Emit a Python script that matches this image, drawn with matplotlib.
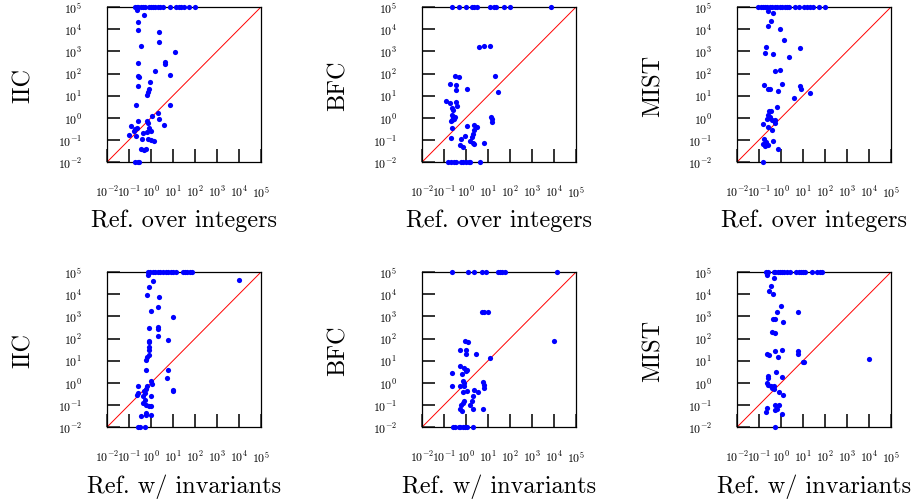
#!/usr/bin/env python3

import numpy as np
import matplotlib
matplotlib.use('Agg')
import matplotlib.pyplot as plt
from matplotlib.ticker import LogLocator, NullLocator

plt.rcParams['font.family'] = 'serif'
plt.rcParams['font.serif'] = ['cmr10', 'DejaVu Serif']
plt.rcParams['mathtext.fontset'] = 'cm'
plt.rcParams['axes.formatter.use_mathtext'] = True

# timeouts are drawn at the top of the plot, tiny runtimes at the bottom
TIMEOUT = 1e5
FLOOR = 1e-2

# all values below are log10 of the runtimes (seconds)

# IIC vs Ref. over integers
iic_int_top = [-0.73, -0.65, -0.58, -0.47, -0.37, -0.28, -0.10, 0.01, 0.10, 0.20,
               0.32, 0.43, 0.53, 0.85, 1.14, 1.26, 1.38, 1.48, 1.71, 1.98]
iic_int_bot = [-0.73, -0.61, -0.55]
iic_int_x = [-0.62, -0.32, -0.59, -0.61, 0.35, 0.35, -0.47, 1.11, -0.58, 0.62, 0.65,
             0.20, -0.58, -0.55, 0.85, -0.05, -0.61, -0.10, -0.14, -0.20, -0.67, 0.88,
             0.31, 0.05, 0.38, -0.59, -0.17, -0.13, 0.61, -0.91, -0.73, -0.62, -0.77,
             -0.10, -0.02, -0.17, -1.00, -0.70, -0.37, -0.40, -0.13, -0.02, 0.16,
             -0.43, -0.32, -0.22]
iic_int_y = [4.85, 4.62, 4.32, 3.98, 3.87, 3.42, 3.24, 2.97, 2.47, 2.52, 2.44,
             2.13, 1.89, 1.83, 1.95, 1.62, 1.44, 1.29, 1.17, 1.05, 0.59, 0.56,
             0.22, 0.08, -0.07, -0.14, -0.13, -0.22, -0.34, -0.37, -0.49, -0.46, -0.61,
             -0.46, -0.61, -0.64, -0.79, -0.83, -0.67, -0.97, -0.97, -1.02, -1.06,
             -1.39, -1.47, -1.39]

# BFC vs Ref. over integers
bfc_int_top = [-0.62, -0.32, -0.02, 0.28, 0.38, 0.50, 1.11, 1.29, 1.38, 1.71, 2.02, 3.85]
bfc_int_bot = [-0.82, -0.70, -0.55, -0.47, -0.22, -0.13, -0.02, 0.13, 0.20, 0.63]
bfc_int_x = [0.58, 0.81, 1.08, -0.50, -0.32, 1.32, -0.74, -0.46, -0.44, 0.04, 1.47,
             -0.92, -0.74, -0.47, -0.43, -0.62, -0.59, -0.65, -0.58, -0.55, -0.70, -0.62,
             -0.50, 1.14, 1.16, 1.16, -0.62, 0.06, 0.36, 0.51, 0.36, 0.31, -0.67, -0.22,
             -0.05, 0.28, 0.17, 0.32, 0.35, 0.84, -0.28, -0.13]
bfc_int_y = [3.20, 3.24, 3.23, 1.89, 1.83, 1.87, 1.51, 1.47, 1.27, 1.32, 1.15,
             0.76, 0.68, 0.71, 0.52, 0.44, 0.34, 0.11, 0.05, -0.07, -0.14, -0.11,
             0.03, 0.04, -0.07, -0.19, -0.44, -0.37, -0.34, -0.43, -0.56, -0.74, -0.91, -0.94,
             -0.83, -0.85, -1.03, -1.12, -1.20, -1.15, -1.21, -1.32]

# MIST vs Ref. over integers
mist_int_top = [-1.03, -0.92, -0.82, -0.73, -0.62, -0.52, -0.40, -0.28, -0.17, -0.05, 0.05,
                0.17, 0.28, 0.38, 0.65, 0.83, 1.03, 1.18, 1.33, 1.44, 1.71, 1.98]
mist_int_bot = [-0.80]
mist_int_x = [-0.59, -0.35, -0.46, -0.58, -0.05, 0.14, -0.67, -0.71, -0.38, 0.85, 0.37,
              -0.26, -0.05, -0.76, -0.61, -0.50, -0.14, 0.05, 0.85, 0.89, 0.61, 1.32,
              -0.20, -0.56, -0.47, -0.61, -0.53, -0.62, -0.40, -0.25, -0.26, -0.80, -0.59,
              -0.43, -0.50, -0.77, -0.70, -0.61, -0.82, -0.73, -0.35, -0.14]
mist_int_y = [4.82, 4.73, 4.37, 4.14, 4.02, 3.50, 3.20, 2.91, 2.89, 3.17, 2.74,
              2.11, 2.17, 1.47, 1.29, 1.29, 1.20, 1.51, 1.42, 1.32, 0.91, 1.11,
              0.50, 0.31, 0.31, 0.11, -0.01, -0.07, -0.11, -0.11, -0.22, -0.28, -0.41,
              -0.53, 0.05, -0.97, -1.09, -1.24, -1.17, -1.27, -1.05, -1.39]

# IIC vs Ref. w/ invariants
iic_inv_top = [-0.14, -0.04, 0.08, 0.19, 0.30, 0.42, 0.54, 0.67, 0.79, 0.90, 1.02,
               1.14, 1.44, 1.55, 1.66, 1.78, 1.85]
iic_inv_bot = [-0.61, -0.49, -0.29]
iic_inv_x = [-0.14, 0.11, 4.00, -0.11, -0.17, 0.37, 0.34, -0.01, 1.02, -0.08, 0.34, 0.34,
             0.33, 0.79, -0.08, -0.08, -0.07, -0.08, -0.11, -0.17, -0.23, -0.22, 0.79,
             0.72, 0.02, 0.07, -0.61, -0.17, -0.22, -0.32, -0.26, 0.99, 1.00, -0.64, -0.60,
             -0.38, -0.29, 0.01, -0.37, -0.22, -0.11, -0.01, -0.22, -0.47, -0.01, -0.22]
iic_inv_y = [4.88, 4.62, 4.65, 4.32, 3.98, 3.87, 3.41, 3.23, 2.97, 2.48, 2.51, 2.43,
             2.13, 1.95, 1.91, 1.83, 1.61, 1.47, 1.28, 1.17, 1.05, 0.60, 0.60,
             0.20, 0.08, -0.04, -0.15, -0.12, -0.27, -0.38, -0.45, -0.30, -0.38, -0.53, -0.45,
             -0.60, -0.75, -0.60, -0.93, -1.02, -1.05, -1.05, -1.38, -1.50, -1.43, -1.47]

# BFC vs Ref. w/ invariants
bfc_inv_top = [-0.62, 0.11, 0.37, 0.72, 0.90, 1.44, 1.55, 1.65, 1.79, 4.14]
bfc_inv_bot = [-0.59, -0.49, -0.34, -0.26, -0.14, -0.04, 0.04, 0.34]
bfc_inv_x = [0.75, 0.84, 1.02, -0.04, 0.11, 4.00, -0.25, -0.01, 0.01, 0.46, 1.11,
             -0.29, -0.11, -0.02, 0.04, -0.62, -0.17, -0.14, -0.08, -0.11, 0.79, 0.82, 0.84,
             -0.65, -0.26, -0.14, 0.04, 0.36, 0.55, 0.34, 0.27, 0.19, 0.34, 0.79,
             -0.14, -0.23, -0.11, -0.26, -0.16]
bfc_inv_y = [3.20, 3.18, 3.18, 1.91, 1.85, 1.88, 1.50, 1.47, 1.31, 1.32, 1.13,
             0.74, 0.68, 0.53, 0.56, 0.45, 0.38, 0.08, 0.00, -0.12, 0.03, -0.08, -0.23,
             -0.15, -0.15, -0.42, -0.38, -0.33, -0.42, -0.57, -0.83, -1.01, -1.16, -1.16,
             -0.90, -0.98, -0.83, -1.20, -1.28]

# MIST vs Ref. w/ invariants
mist_inv_top = [-0.67, -0.58, -0.32, -0.25, -0.14, -0.05, 0.05, 0.16, 0.28, 0.39, 0.70,
                0.81, 0.91, 1.00, 1.11, 1.41, 1.64, 1.76, 1.85]
mist_inv_bot = [-0.26]
mist_inv_x = [-0.62, -0.32, -0.47, -0.55, -0.37, -0.02, -0.20, 0.78, -0.37, -0.25, 0.08,
              -0.40, -0.28, -0.62, -0.53, -0.25, 0.04, -0.14, 0.76, 0.79, 1.00, 1.03, 4.01,
              -0.22, -0.58, -0.61, 0.04, -0.62, -0.58, -0.45, -0.33, -0.30, -0.40,
              -0.10, 0.08, -0.62, -0.67, -0.25, -0.18, -0.10, -0.25, 0.05]
mist_inv_y = [4.88, 4.73, 4.38, 4.16, 4.02, 3.48, 3.20, 3.18, 2.88, 2.88, 2.75,
              2.31, 2.26, 1.31, 1.28, 1.46, 1.50, 1.17, 1.43, 1.32, 0.93, 0.93, 1.10,
              0.50, 0.33, 0.20, 0.27, 0.00, -0.11, -0.12, -0.15, -0.27, -0.23,
              -0.42, -0.56, -1.13, -1.32, -1.02, -1.16, -1.00, -1.22, -1.40]

panels = [
    ('IIC', 'Ref. over integers', iic_int_x, iic_int_y, iic_int_top, iic_int_bot),
    ('BFC', 'Ref. over integers', bfc_int_x, bfc_int_y, bfc_int_top, bfc_int_bot),
    ('MIST', 'Ref. over integers', mist_int_x, mist_int_y, mist_int_top, mist_int_bot),
    ('IIC', 'Ref. w/ invariants', iic_inv_x, iic_inv_y, iic_inv_top, iic_inv_bot),
    ('BFC', 'Ref. w/ invariants', bfc_inv_x, bfc_inv_y, bfc_inv_top, bfc_inv_bot),
    ('MIST', 'Ref. w/ invariants', mist_inv_x, mist_inv_y, mist_inv_top, mist_inv_bot),
]

fig = plt.figure(figsize=(9.14, 5.02), dpi=100)

lefts = [0.117, 0.4617, 0.8063]
bottoms = [0.675, 0.147]
w, h = 0.1685, 0.309
tick_len = 0.085  # inward tick length, fraction of the axes
tick_col = '#333333'

for i, (ylab, xlab, xs, ys, top, bot) in enumerate(panels):
    ax = fig.add_axes([lefts[i % 3], bottoms[i // 3], w, h])
    ax.set_xscale('log')
    ax.set_yscale('log')
    ax.set_xlim(FLOOR, TIMEOUT)
    ax.set_ylim(FLOOR, TIMEOUT)
    ax.xaxis.set_major_locator(LogLocator(base=10, numticks=10))
    ax.yaxis.set_major_locator(LogLocator(base=10, numticks=10))
    ax.xaxis.set_minor_locator(NullLocator())
    ax.yaxis.set_minor_locator(NullLocator())

    ax.plot([FLOOR, TIMEOUT], [FLOOR, TIMEOUT], color='red', lw=0.7, zorder=1)

    x = np.concatenate([np.power(10.0, xs), np.power(10.0, top), np.power(10.0, bot)])
    y = np.concatenate([np.power(10.0, ys), np.full(len(top), TIMEOUT),
                        np.full(len(bot), FLOOR)])
    ax.scatter(x, y, s=14, color='#0000ff', linewidths=0, zorder=3, clip_on=False)

    ax.tick_params(which='major', direction='in', length=9.5, width=1.2,
                   color=tick_col, labelsize=8.5, top=False, right=False)
    ax.tick_params(axis='x', pad=16)
    ax.tick_params(axis='y', pad=18)

    # inward tick marks, also drawn as short lines at each decade
    for t in ax.get_xticks():
        if FLOOR < t < TIMEOUT:
            ax.plot([t, t], [0, tick_len], transform=ax.get_xaxis_transform(),
                    color=tick_col, lw=1.2, zorder=2, solid_capstyle='butt')
    for t in ax.get_yticks():
        if FLOOR < t < TIMEOUT:
            ax.plot([0, tick_len], [t, t], transform=ax.get_yaxis_transform(),
                    color=tick_col, lw=1.2, zorder=2, solid_capstyle='butt')

    for s in ax.spines.values():
        s.set_linewidth(0.9)

    ax.set_xlabel(xlab, fontsize=17.5)
    ax.set_ylabel(ylab, fontsize=17.5)
    ax.xaxis.set_label_coords(0.5, -0.3)
    ax.yaxis.set_label_coords(-0.47, 0.5)

fig.savefig('out.png', dpi=100)
